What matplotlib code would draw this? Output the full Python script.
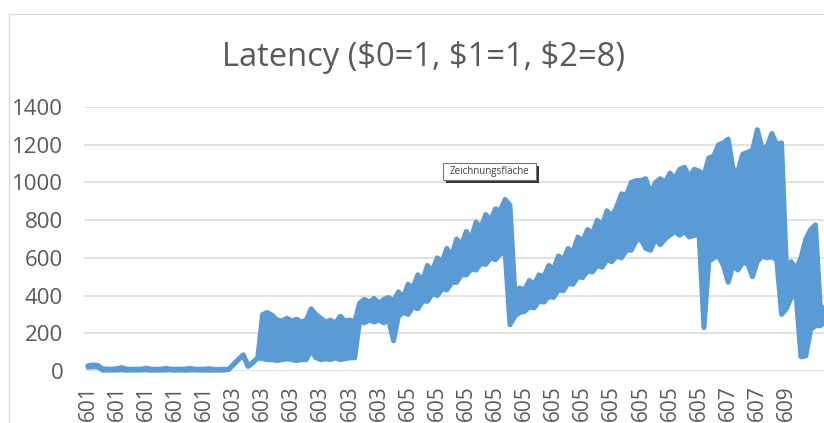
import numpy as np
import matplotlib
matplotlib.use("Agg")
import matplotlib.pyplot as plt
from matplotlib.patches import Rectangle

plt.rcParams['font.family'] = ['Open Sans', 'DejaVu Sans']

# latency band, 6 samples per category label.
# the raw series is very dense, so it shows up as a band: upper / lower edge
latency_hi = [
    28, 32, 30,
    12, 10, 10, 12, 18, 10, 9, 10, 10, 15, 10, 9, 10, 14, 10, 9, 10, 10, 14, 10, 9, 10, 12, 9, 8, 10, 8,
    35, 60, 85, 25, 45, 70,
    300, 310, 295, 270, 265, 280, 265, 275, 260, 270,
    330, 300, 280, 260, 270, 255, 290, 265, 270, 260,
    360, 380, 365, 385, 360, 380, 390, 370,
    420, 390, 460, 440, 510, 480, 560, 530, 600, 580, 650, 610,
    700, 670, 740, 700, 790, 760, 830, 800, 860, 850, 910, 880,
    420, 440, 430, 480, 460, 510, 500, 560, 540, 610, 590, 650, 630,
    710, 690, 750, 730, 800, 770, 850, 820, 870, 940, 930, 1000, 1010,
    1010, 1020, 940, 1000, 1020, 1000, 1050, 1020, 1070, 1080, 1030, 1070, 1060,
    1040,
    1130, 1140, 1200, 1210, 1230, 1070, 1060, 1150, 1160, 1170, 1280, 1180, 1190, 1260, 1200,
    1210, 550, 580, 540, 600, 700, 750, 775, 330, 340,
]
latency_lo = [
    20, 22, 22,
    4, 5, 4, 5, 6, 4, 5, 4, 5, 6, 4, 5, 4, 5, 6, 4, 5, 4, 5, 6, 4, 5, 4, 5, 4, 5, 8,
    35, 60, 85, 25, 45, 70,
    65, 60, 60, 55, 60, 65, 60, 55, 60, 60,
    110, 70, 60, 65, 60, 70, 60, 65, 70, 70,
    265, 255, 270, 260, 270, 255, 270, 160,
    290, 310, 300, 340, 330, 370, 370, 410, 400, 435, 430, 470,
    470, 510, 510, 540, 535, 570, 565, 600, 590, 620, 630, 245,
    290, 310, 315, 340, 335, 370, 365, 395, 390, 430, 425, 465, 460,
    500, 495, 530, 525, 560, 550, 590, 580, 610, 600, 640, 640, 690,
    700, 650, 640, 700, 670, 700, 720, 740, 720, 740, 710, 720, 720,
    230,
    580, 600, 610, 560, 470, 560, 535, 575, 570, 500, 580, 610, 600, 605, 590,
    300, 330, 390, 400, 75, 80, 220, 240, 240, 260,
]

tick_labels = ["601"] * 5 + ["603"] * 6 + ["605"] * 11 + ["607"] * 2 + ["609"]
samples_per_label = 6

grey = "#595959"
blue = "#5B9BD5"

fig = plt.figure(figsize=(8.24, 4.23), dpi=100)

# chart frame
W, H = 824, 423
fig.add_artist(plt.Line2D([9 / W, 9 / W], [0, 1 - 14 / H], color="#D9D9D9", lw=1))
fig.add_artist(plt.Line2D([9 / W, 1], [1 - 14 / H, 1 - 14 / H], color="#D9D9D9", lw=1))

ax = fig.add_axes([84 / W, (H - 371) / H, 1 - 84 / W, (371 - 107) / H])

x = np.arange(len(latency_hi))
ax.fill_between(x, latency_lo, latency_hi, color=blue, lw=0, clip_on=False, zorder=3)
for edge in (latency_hi, latency_lo):
    ax.plot(x, edge, color=blue, lw=3.6, solid_joinstyle="round",
            solid_capstyle="round", clip_on=False, zorder=3)

ax.set_ylim(0, 1400)
ax.set_yticks(np.arange(0, 1401, 200))
ax.set_xlim((84 - 88) / 4.85, (824 - 88) / 4.85)
ax.set_xticks(np.arange(len(tick_labels)) * samples_per_label)
ax.set_xticklabels(tick_labels, rotation=90, va="top")

ax.grid(axis="y", color="#D9D9D9", lw=1.1)
ax.set_axisbelow(True)
for s in ax.spines.values():
    s.set_visible(False)
ax.tick_params(axis="both", length=0, colors=grey, labelsize=15)
ax.tick_params(axis="y", labelsize=16, pad=15)
ax.tick_params(axis="x", pad=10)

fig.text(423 / W, 1 - 57 / H, "Latency ($0=1, $1=1, $2=8)", ha="center", va="center",
         fontsize=23.5, color=grey)

# "Zeichnungsfläche" tooltip with its shadow
bx0, by0, bw, bh = 443, 163, 93, 17
fig.add_artist(Rectangle(((bx0 + 3) / W, 1 - (by0 + bh + 3) / H), bw / W, bh / H,
                         transform=fig.transFigure, facecolor="#333333", edgecolor="none", zorder=10))
fig.add_artist(Rectangle((bx0 / W, 1 - (by0 + bh) / H), bw / W, bh / H,
                         transform=fig.transFigure, facecolor="white", edgecolor="#767676",
                         lw=0.8, zorder=11))
fig.text((bx0 + bw / 2) / W, 1 - (by0 + bh / 2) / H, "Zeichnungsfläche", ha="center",
         va="center", fontsize=7, color="#404040", zorder=12)

fig.savefig("out.png", dpi=100)
